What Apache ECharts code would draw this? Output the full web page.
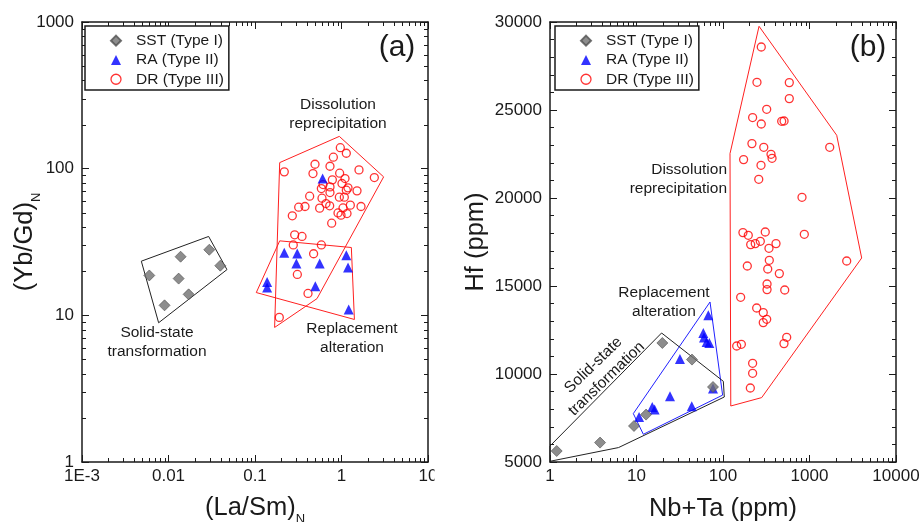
<!DOCTYPE html>
<html>
<head>
<meta charset="utf-8">
<script src="https://cdn.jsdelivr.net/npm/echarts@6/dist/echarts.min.js"></script>
<style>html,body{margin:0;padding:0;background:#fff}#c{width:922px;height:522px}</style>
</head>
<body>
<div id="c"></div>
<script>
// ---------- Panel (a): (La/Sm)N vs (Yb/Gd)N ----------
const seriesNames = ['SST (Type I)', 'RA (Type II)', 'DR (Type III)'];
const aXLabels = ['1E-3', '0.01', '0.1', '1', '10'];        // exponents -3..1
const aYLabels = ['1', '10', '100', '1000'];                // exponents 0..3
const sstA = [[0.0060,18.7],[0.0138,25.1],[0.0131,17.8],[0.0296,28.0],[0.0397,21.8],[0.0171,13.9],[0.0090,11.7]];
const raA = [[0.138,16.9],[0.138,15.5],[0.218,26.7],[0.308,26.4],[0.301,22.6],[0.560,22.6],[0.498,15.8],[1.137,25.7],[1.19,21.2],[1.21,10.96],[0.605,85.6]];
const drA = [[0.969,139],[1.137,127.4],[0.805,119.7],[0.494,107.2],[0.736,103.9],[0.218,95.1],[0.468,92.6],[0.952,93.1],[1.593,98.1],[2.397,87.0],
  [0.784,83.9],[1.098,85.6],[0.612,77.9],[1.013,79.2],[0.585,73.2],[0.736,75.1],[1.189,74.0],[1.137,71.3],[0.736,68.7],[1.511,70.6],
  [0.4285,64.9],[0.944,63.9],[1.078,63.9],[0.595,62.9],[0.320,54.6],[0.3785,55.2],[0.559,53.8],[0.662,57.8],[0.730,55.8],[1.265,56.4],
  [1.681,55.2],[1.041,54.0],[0.911,49.9],[1.158,49.4],[0.987,48.2],[0.270,47.7],[0.770,42.5],[0.2875,35.4],[0.3496,34.5],[0.277,30.2],
  [0.585,30.2],[0.476,26.3],[0.3087,19.0],[0.410,14.1],[0.191,9.68]];
const sstPolyA = [[0.00485,23.4],[0.0291,34.5],[0.0474,20.5],[0.00769,8.9],[0.00485,23.4]];
const raPolyA = [[0.1035,14.3],[0.193,32.2],[1.30,29.0],[1.41,9.37],[0.1035,14.3]];
const drPolyA = [[0.193,110],[0.944,166],[3.07,87.9],[0.521,13.0],[0.1686,8.27],[0.193,110]];

// ---------- Panel (b): Nb+Ta vs Hf ----------
const bXLabels = ['1', '10', '100', '1000', '10000'];       // exponents 0..4
const bYTicks = [5000, 10000, 15000, 20000, 25000, 30000];
const sstB = [[1.195,5625],[3.79,6102],[9.35,7046],[12.9,7693],[19.9,11762],[43.8,10818],[76.6,9262]];
const raB = [[10.7,7557],[15.2,8130],[16.2,7990],[24.4,8733],[31.8,10852],[43.5,8165],[59.2,12330],[60.3,12068],[64.7,11818],[69.5,11762],[67.6,13335],[76.6,9170]];
const drB = [[277,28580],[247,26575],[584,26557],[584,25648],[320,25040],[220,24569],[277,24205],[477,24358],[508,24376],[1713,22881],
  [216,23091],[296,22881],[359,22484],[369,22256],[173,22182],[275,21858],[259,21063],[819,20040],[170,18034],[196,17881],
  [308,18069],[871,17938],[209,17353],[236,17409],[270,17540],[340,17142],[410,17409],[2692,16421],[343,16461],[191,16137],
  [329,15966],[448,15705],[323,15114],[323,14796],[517,14773],[160,14358],[245,13750],[292,13489],[320,13108],[292,12921],
  [545,12085],[507,11727],[144,11591],[163,11688],[220,10608],[220,10040],[207,9205]];
const sstPolyB = [[1,5909],[19.5,12330],[100.9,9585],[103.5,8693],[6.2,5820],[1,5040],[1,5909]];
const raPolyB = [[9.19,7750],[70.8,14091],[99,8800],[12.0,6574],[9.19,7750]];
const drPolyB = [[261,29757],[2063,23563],[4011,16591],[280,8659],[123,8182],[120.5,22523],[261,29757]];

// minor tick multipliers for log axes
const logMinor = [2,3,4,5,6,7,8,9];

const FONT = '"Liberation Sans", Arial, sans-serif';
const INK = '#1a1a1a';

function minorList(e0, e1) {
  const out = [];
  for (let e = e0; e < e1; e++) logMinor.forEach(m => out.push(m * Math.pow(10, e)));
  return out;
}
function expLabel(arr, e0) {
  return v => { const e = Math.round(Math.log10(v)); return arr[e - e0] ?? ''; };
}

const gridA = {left: 82, top: 22, width: 346, height: 440, containLabel: false, outerBoundsMode: 'none'};
const gridB = {left: 550, top: 22, width: 346, height: 440, containLabel: false, outerBoundsMode: 'none'};

function baseAxis(extra) {
  return Object.assign({
    nameMoveOverlap: false,
    axisLine: {show: true, onZero: false, lineStyle: {color: INK, width: 1.5}},
    axisTick: {show: true, inside: true, length: 7, lineStyle: {color: INK, width: 1}},
    splitLine: {show: false},
    axisLabel: {color: INK, fontSize: 17, fontFamily: FONT},
    nameTextStyle: {color: INK, fontFamily: FONT, fontSize: 25.5}
  }, extra);
}

const subRich = {
  m: {fontSize: 25.5, fontFamily: FONT, color: INK, lineHeight: 37},
  s: {fontSize: 13, fontFamily: FONT, color: INK, lineHeight: 13, verticalAlign: 'bottom'}
};

function minorXSeries(xi, yi, vals, yAt) {
  return {
    type: 'custom', xAxisIndex: xi, yAxisIndex: yi, silent: true, z: 1, clip: false,
    data: vals.map(v => [v, yAt]),
    renderItem(params, api) {
      const p = api.coord([api.value(0), api.value(1)]);
      const cs = params.coordSys;
      const x = Math.round(p[0]) + 0.5;
      const yb = cs.y + cs.height, yt = cs.y;
      return {type: 'group', children: [
        {type: 'line', shape: {x1: x, y1: yb, x2: x, y2: yb - 4}, style: {stroke: INK, lineWidth: 1}},
        {type: 'line', shape: {x1: x, y1: yt, x2: x, y2: yt + 4}, style: {stroke: INK, lineWidth: 1}}
      ]};
    }
  };
}
function minorYSeries(xi, yi, vals, xAt) {
  return {
    type: 'custom', xAxisIndex: xi, yAxisIndex: yi, silent: true, z: 1, clip: false,
    data: vals.map(v => [xAt, v]),
    renderItem(params, api) {
      const p = api.coord([api.value(0), api.value(1)]);
      const cs = params.coordSys;
      const y = Math.round(p[1]) + 0.5;
      const xl = cs.x, xr = cs.x + cs.width;
      return {type: 'group', children: [
        {type: 'line', shape: {x1: xl, y1: y, x2: xl + 4, y2: y}, style: {stroke: INK, lineWidth: 1}},
        {type: 'line', shape: {x1: xr, y1: y, x2: xr - 4, y2: y}, style: {stroke: INK, lineWidth: 1}}
      ]};
    }
  };
}

function polySeries(xi, yi, data, color) {
  return {type: 'line', xAxisIndex: xi, yAxisIndex: yi, data: data, showSymbol: false, symbol: 'none',
    silent: true, z: 2, lineStyle: {color: color, width: 1}, itemStyle: {color: color}};
}

const sstStyle = {color: '#707070', borderColor: '#505050', borderWidth: 0.8};
const raStyle = {color: '#0000ff'};
const drStyle = {color: 'rgba(0,0,0,0)', borderColor: '#ff0000', borderWidth: 1.3};

function pointSeries(xi, yi) {
  return [
    {name: seriesNames[0], type: 'scatter', xAxisIndex: xi, yAxisIndex: yi, symbol: 'diamond', symbolSize: 11, z: 5, itemStyle: sstStyle},
    {name: seriesNames[1], type: 'scatter', xAxisIndex: xi, yAxisIndex: yi, symbol: 'triangle', symbolSize: 10, z: 4, itemStyle: raStyle},
    {name: seriesNames[2], type: 'scatter', xAxisIndex: xi, yAxisIndex: yi, symbol: 'circle', symbolSize: 8, z: 3, itemStyle: drStyle}
  ];
}

function legendAt(left) {
  return {
    left: left, top: 26, orient: 'vertical', padding: [5, 5, 1, 25],
    itemWidth: 10, itemHeight: 10, itemGap: 0, selectedMode: false,
    borderColor: INK, borderWidth: 1.5, backgroundColor: '#fff',
    textStyle: {fontSize: 15.5, fontFamily: FONT, color: INK, lineHeight: 19.3, padding: [0, 0, 0, 10]},
    data: [
      {name: seriesNames[0], icon: 'diamond'},
      {name: seriesNames[1], icon: 'triangle'},
      {name: seriesNames[2], icon: 'circle', itemStyle: {color: 'rgba(0,0,0,0)', borderColor: '#ff0000', borderWidth: 1.3}}
    ]
  };
}

const ptsA = pointSeries(0, 0);
ptsA[0].data = sstA; ptsA[1].data = raA; ptsA[2].data = drA;
const ptsB = pointSeries(2, 2);
ptsB[0].data = sstB; ptsB[1].data = raB; ptsB[2].data = drB;

const txt = (x, y, text, extra) => Object.assign({
  type: 'text', x: x, y: y, z: 100,
  style: {text: text, fontSize: 15.5, fontFamily: FONT, fill: INK, align: 'center', verticalAlign: 'middle', lineHeight: 19}
}, extra || {});

const option = {
  animation: false,
  backgroundColor: '#fff',
  grid: [gridA, gridB],
  legend: [legendAt(85), legendAt(555)],
  xAxis: [
    baseAxis({type: 'log', logBase: 10, min: 0.001, max: 10, gridIndex: 0, position: 'bottom',
      axisLabel: {color: INK, fontSize: 17, fontFamily: FONT, margin: 6, formatter: expLabel(aXLabels, -3)},
      name: '{m|(La/Sm)}{s|N}', nameLocation: 'middle', nameGap: 27,
      nameTextStyle: {rich: subRich}}),
    baseAxis({type: 'log', logBase: 10, min: 0.001, max: 10, gridIndex: 0, position: 'top', axisLabel: {show: false}}),
    baseAxis({type: 'log', logBase: 10, min: 1, max: 10000, gridIndex: 1, position: 'bottom',
      axisLabel: {color: INK, fontSize: 17, fontFamily: FONT, margin: 6, formatter: expLabel(bXLabels, 0)},
      name: 'Nb+Ta (ppm)', nameLocation: 'middle', nameGap: 34,
      nameTextStyle: {color: INK, fontFamily: FONT, fontSize: 25.5, lineHeight: 26}}),
    baseAxis({type: 'log', logBase: 10, min: 1, max: 10000, gridIndex: 1, position: 'top', axisLabel: {show: false}})
  ],
  yAxis: [
    baseAxis({type: 'log', logBase: 10, min: 1, max: 1000, gridIndex: 0, position: 'left',
      axisLabel: {color: INK, fontSize: 17, fontFamily: FONT, margin: 8, formatter: expLabel(aYLabels, 0)},
      name: '{m|(Yb/Gd)}{s|N}', nameLocation: 'middle', nameGap: 39,
      nameTextStyle: {rich: subRich}}),
    baseAxis({type: 'log', logBase: 10, min: 1, max: 1000, gridIndex: 0, position: 'right', axisLabel: {show: false}}),
    baseAxis({type: 'value', min: bYTicks[0], max: bYTicks[bYTicks.length - 1], interval: 5000, gridIndex: 1, position: 'left',
      minorTick: {show: true, splitNumber: 5, length: 4, lineStyle: {color: INK, width: 1}},
      axisLabel: {color: INK, fontSize: 17, fontFamily: FONT, margin: 8, formatter: v => String(v)},
      name: 'Hf (ppm)', nameLocation: 'middle', nameGap: 61,
      nameTextStyle: {color: INK, fontFamily: FONT, fontSize: 25.5, lineHeight: 26}}),
    baseAxis({type: 'value', min: bYTicks[0], max: bYTicks[bYTicks.length - 1], interval: 5000, gridIndex: 1, position: 'right',
      minorTick: {show: true, splitNumber: 5, length: 4, lineStyle: {color: INK, width: 1}},
      axisLabel: {show: false}})
  ],
  series: [
    polySeries(0, 0, sstPolyA, '#222222'),
    polySeries(0, 0, raPolyA, '#ff2020'),
    polySeries(0, 0, drPolyA, '#ff2020'),
    polySeries(2, 2, raPolyB, '#2020ff'),
    polySeries(2, 2, sstPolyB, '#222222'),
    polySeries(2, 2, drPolyB, '#ff2020'),
    minorXSeries(0, 0, minorList(-3, 1), 1),
    minorYSeries(0, 0, minorList(0, 3), 0.001),
    minorXSeries(2, 2, minorList(0, 4), 5000),
    ...ptsA, ...ptsB
  ],
  graphic: [
    txt(397, 48, '(a)', {style: {text: '(a)', fontSize: 30, fontFamily: FONT, fill: INK, align: 'center', verticalAlign: 'middle'}}),
    txt(868, 48, '(b)', {style: {text: '(b)', fontSize: 30, fontFamily: FONT, fill: INK, align: 'center', verticalAlign: 'middle'}}),
    txt(338, 114.5, 'Dissolution\nreprecipitation'),
    txt(157, 342, 'Solid-state\ntransformation'),
    txt(352, 338.5, 'Replacement\nalteration'),
    txt(727, 179.5, 'Dissolution\nreprecipitation', {style: {text: 'Dissolution\nreprecipitation', fontSize: 15.5, fontFamily: FONT, fill: INK, align: 'right', verticalAlign: 'middle', lineHeight: 19}}),
    txt(664, 302.5, 'Replacement\nalteration'),
    txt(600, 372, 'Solid-state\ntransformation', {rotation: 44 * Math.PI / 180}),
    {type: 'rect', z: 100, shape: {x: 434.5, y: 466, width: 21, height: 24}, style: {fill: '#fff'}}
  ]
};

const chart = echarts.init(document.getElementById('c'), null, {renderer: 'canvas'});
chart.setOption(option);
</script>
</body>
</html>
